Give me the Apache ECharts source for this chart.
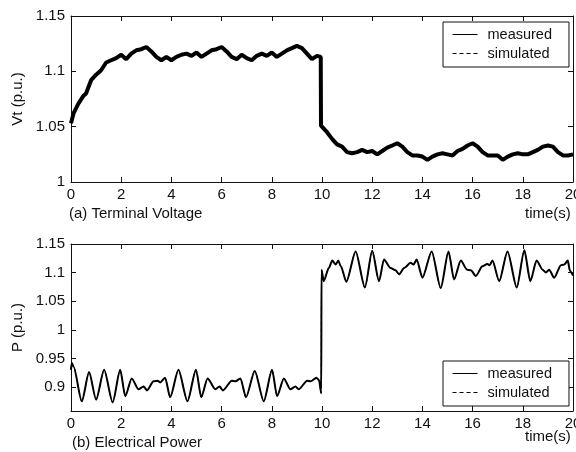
<!DOCTYPE html>
<html>
<head>
<meta charset="utf-8">
<script src="https://cdn.jsdelivr.net/npm/echarts@6/dist/echarts.min.js"></script>
<style>
  html, body { margin: 0; padding: 0; background: #fff; }
  #chart { width: 576px; height: 452px; }
</style>
</head>
<body>
<div id="chart"></div>
<script>
// (a) terminal voltage
const vtTime = [0, 0.1, 0.3, 0.5, 0.6, 0.8, 1.0, 1.2, 1.4, 1.6, 1.8, 2.0, 2.2, 2.4, 2.6, 2.8, 3.0, 3.2, 3.4, 3.6, 3.8,
  4.0, 4.2, 4.4, 4.6, 4.8, 5.0, 5.2, 5.4, 5.6, 5.8, 6.0, 6.2, 6.4, 6.6, 6.8, 7.0, 7.2, 7.4, 7.6, 7.8,
  8.0, 8.2, 8.4, 8.6, 8.8, 9.0, 9.2, 9.4, 9.6, 9.8, 9.95, 9.96, 10.2, 10.4, 10.6, 10.8, 11.0, 11.2, 11.4, 11.6, 11.8,
  12.0, 12.2, 12.4, 12.6, 12.8, 13.0, 13.2, 13.4, 13.6, 13.8, 14.0, 14.2, 14.4, 14.6, 14.8, 15.0, 15.2, 15.4, 15.6, 15.8,
  16.0, 16.2, 16.4, 16.6, 16.8, 17.0, 17.2, 17.4, 17.6, 17.8, 18.0, 18.2, 18.4, 18.6, 18.8, 19.0, 19.2, 19.4, 19.6, 19.8, 20.0];
const vtMeasured = [1.053, 1.062, 1.071, 1.078, 1.080, 1.092, 1.097, 1.101, 1.108, 1.110, 1.112, 1.115, 1.111, 1.116, 1.119, 1.120, 1.122, 1.118, 1.113, 1.110, 1.113,
  1.110, 1.113, 1.115, 1.116, 1.114, 1.117, 1.113, 1.116, 1.119, 1.120, 1.122, 1.118, 1.113, 1.111, 1.115, 1.112, 1.110, 1.114, 1.116, 1.114,
  1.117, 1.113, 1.116, 1.119, 1.121, 1.123, 1.121, 1.116, 1.111, 1.114, 1.113, 1.051, 1.045, 1.039, 1.034, 1.032, 1.027, 1.026, 1.027, 1.029, 1.027,
  1.028, 1.025, 1.028, 1.031, 1.033, 1.035, 1.032, 1.027, 1.024, 1.024, 1.023, 1.020, 1.023, 1.025, 1.026, 1.025, 1.024, 1.028, 1.030, 1.033,
  1.035, 1.032, 1.027, 1.024, 1.024, 1.024, 1.020, 1.023, 1.025, 1.026, 1.025, 1.025, 1.027, 1.029, 1.032, 1.033, 1.032, 1.027, 1.024, 1.024, 1.025];
// simulated trace sits right under the measured one
const vtSimulated = vtMeasured.slice();

// (b) electrical power
const pTime = [0, 0.03, 0.1, 0.43, 0.72, 1.0, 1.32, 1.66, 1.96, 2.16, 2.42, 2.69, 2.89, 3.03, 3.29, 3.45, 3.55, 3.75, 3.95,
  4.28, 4.64, 4.98, 5.19, 5.44, 5.75, 5.92, 6.05, 6.41, 6.55, 6.75, 6.97, 7.32, 7.68, 8.01, 8.21, 8.48, 8.74, 8.94, 9.07,
  9.41, 9.55, 9.78, 9.88, 9.97, 9.98, 10.07, 10.27, 10.41, 10.54, 10.65, 10.75, 10.97, 11.34, 11.71, 12.0, 12.27, 12.47,
  12.73, 12.93, 13.07, 13.27, 13.53, 13.65, 13.77, 14.0, 14.37, 14.73, 15.04, 15.26, 15.53, 15.78, 15.93, 16.13, 16.39,
  16.59, 16.68, 16.79, 17.06, 17.39, 17.76, 18.06, 18.3, 18.55, 18.79, 18.92, 19.05, 19.25, 19.52, 19.65, 19.79, 19.88, 20.0];
const pMeasured = [0.930, 0.942, 0.936, 0.875, 0.926, 0.878, 0.930, 0.873, 0.930, 0.884, 0.915, 0.896, 0.901, 0.894, 0.910, 0.911, 0.908, 0.916, 0.882,
  0.930, 0.875, 0.930, 0.882, 0.915, 0.896, 0.901, 0.894, 0.911, 0.910, 0.915, 0.882, 0.928, 0.875, 0.930, 0.884, 0.915, 0.896, 0.901, 0.896,
  0.911, 0.910, 0.916, 0.912, 0.889, 1.105, 1.085, 1.108, 1.121, 1.114, 1.121, 1.111, 1.084, 1.137, 1.074, 1.138, 1.085, 1.123,
  1.108, 1.104, 1.097, 1.108, 1.117, 1.114, 1.123, 1.091, 1.137, 1.073, 1.137, 1.088, 1.121, 1.105, 1.104, 1.094, 1.111,
  1.115, 1.113, 1.121, 1.085, 1.137, 1.074, 1.139, 1.085, 1.121, 1.105, 1.100, 1.105, 1.091, 1.113, 1.114, 1.121, 1.103, 1.095];
const pSimulated = pMeasured.slice();

const xTicks = { min: 0, max: 20, interval: 2 };
const vtTicks = { min: 1, max: 1.15, interval: 0.05 };
const pRange = { min: 0.858, max: 1.15 };
const pTickValues = [0.9, 0.95, 1, 1.05, 1.1, 1.15];
const legendNames = ['measured', 'simulated'];

const font = 'Liberation Sans, Arial, sans-serif';
const ink = '#111';

const pair = (ts, vs) => ts.map((t, i) => [t, vs[i]]);

function xAxisFor(gridIndex, position) {
  const bottom = position === 'bottom';
  return {
    type: 'value', gridIndex, position, ...xTicks,
    axisLine: { show: true, onZero: false, lineStyle: { color: ink, width: 1 } },
    axisTick: { show: true, inside: true, length: 5, lineStyle: { color: ink } },
    axisLabel: { show: bottom, color: ink, fontFamily: font, fontSize: 15, margin: 5 },
    splitLine: { show: false },
  };
}

function yAxisFor(gridIndex, position, extra, name) {
  const left = position === 'left';
  return {
    type: 'value', gridIndex, position, min: extra.min, max: extra.max, interval: extra.interval,
    name: left ? name : '',
    nameLocation: 'middle',
    nameGap: 46,
    nameRotate: 90,
    nameTextStyle: { color: ink, fontFamily: font, fontSize: 15 },
    axisLine: { show: true, onZero: false, lineStyle: { color: ink, width: 1 } },
    axisTick: { show: true, inside: true, length: 5, lineStyle: { color: ink }, customValues: extra.ticks },
    axisLabel: { show: left, color: ink, fontFamily: font, fontSize: 15, margin: 6, customValues: extra.ticks },
    splitLine: { show: false },
  };
}

function legendAt(top) {
  return {
    data: legendNames,
    orient: 'vertical',
    left: 443,
    top,
    padding: [5, 17, 6, 9],
    itemGap: 4,
    itemWidth: 25,
    itemHeight: 14,
    borderColor: ink,
    borderWidth: 1,
    backgroundColor: '#fff',
    selectedMode: false,
    lineStyle: { width: 1 },
    // hide the marker dot that echarts puts on line-series legend icons
    itemStyle: { color: 'transparent', borderWidth: 0, opacity: 0 },
    textStyle: { color: ink, fontFamily: font, fontSize: 14.5, padding: [0, 0, 0, 5] },
  };
}

const lineSeries = (name, data, xi, yi, width, dashed) => ({
  name, type: 'line', data, xAxisIndex: xi, yAxisIndex: yi,
  symbol: 'none', animation: false,
  z: dashed ? 2 : 3,
  lineStyle: { color: '#000', width, type: dashed ? [4, 3] : 'solid' },
  itemStyle: { color: '#000' },
});

const chart = echarts.init(document.getElementById('chart'));
chart.setOption({
  backgroundColor: '#fff',
  animation: false,
  grid: [
    { left: 71, top: 16, width: 502, height: 166, containLabel: false, outerBoundsMode: 'none' },
    { left: 71, top: 244, width: 502, height: 167, containLabel: false, outerBoundsMode: 'none' },
  ],
  xAxis: [xAxisFor(0, 'bottom'), xAxisFor(0, 'top'), xAxisFor(1, 'bottom'), xAxisFor(1, 'top')],
  yAxis: [
    yAxisFor(0, 'left', vtTicks, 'Vt (p.u.)'),
    yAxisFor(0, 'right', vtTicks),
    yAxisFor(1, 'left', { ...pRange, ticks: pTickValues }, 'P (p.u.)'),
    yAxisFor(1, 'right', { ...pRange, ticks: pTickValues }),
  ],
  legend: [legendAt(22), legendAt(361)],
  series: [
    lineSeries('measured', pair(vtTime, vtMeasured), 0, 0, 4, false),
    lineSeries('simulated', pair(vtTime, vtSimulated), 0, 0, 1, true),
    Object.assign(lineSeries('measured', pair(pTime, pMeasured), 2, 2, 2, false), { smooth: 0.25, smoothMonotone: 'x' }),
    Object.assign(lineSeries('simulated', pair(pTime, pSimulated), 2, 2, 1, true), { smooth: 0.25, smoothMonotone: 'x' }),
  ],
  graphic: [
    { type: 'text', left: 69, top: 206, style: { text: '(a) Terminal Voltage', fill: ink, font: '15px ' + font } },
    { type: 'text', left: 525, top: 206, style: { text: 'time(s)', fill: ink, font: '15px ' + font } },
    { type: 'text', left: 72, top: 435, style: { text: '(b) Electrical Power', fill: ink, font: '15px ' + font } },
    { type: 'text', left: 525, top: 429, style: { text: 'time(s)', fill: ink, font: '15px ' + font } },
  ],
});
</script>
</body>
</html>
